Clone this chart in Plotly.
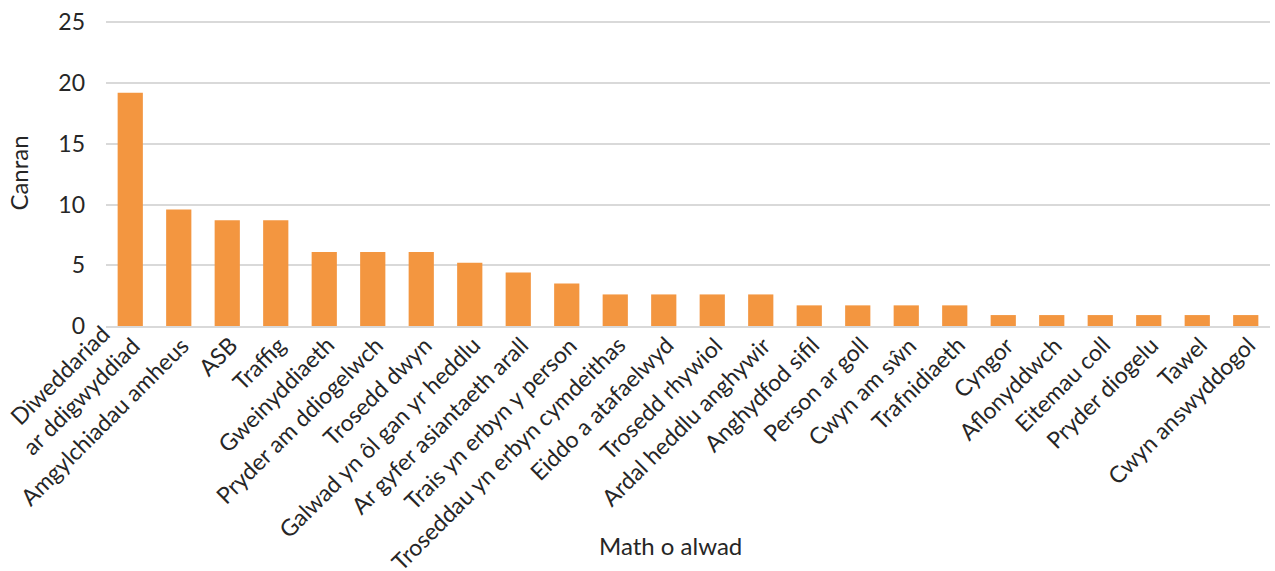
import plotly.graph_objects as go

categories = [
    "Diweddariad<br>ar ddigwyddiad", "Amgylchiadau amheus", "ASB", "Traffig",
    "Gweinyddiaeth", "Pryder am ddiogelwch", "Trosedd dwyn",
    "Galwad yn ôl gan yr heddlu", "Ar gyfer asiantaeth arall",
    "Trais yn erbyn y person", "Troseddau yn erbyn cymdeithas",
    "Eiddo a atafaelwyd", "Trosedd rhywiol", "Ardal heddlu anghywir",
    "Anghydfod sifil", "Person ar goll", "Cwyn am sŵn", "Trafnidiaeth",
    "Cyngor", "Aflonyddwch", "Eitemau coll", "Pryder diogelu", "Tawel",
    "Cwyn answyddogol",
]
values = [19.2, 9.6, 8.7, 8.7, 6.1, 6.1, 6.1, 5.2, 4.4, 3.5,
          2.6, 2.6, 2.6, 2.6, 1.7, 1.7, 1.7, 1.7,
          0.9, 0.9, 0.9, 0.9, 0.9, 0.9]
y_ticks = [0, 5, 10, 15, 20, 25]
x_title = "Math o alwad"
y_title = "Canran"

FONT = "Lato"
TXT = "#262626"
LABEL_SIZE = 23

fig = go.Figure(go.Bar(x=categories, y=values, marker_color="#F39640",
                       marker_line_width=0))

# category labels as rotated annotations (centred multi-line like the original)
for i, cat in enumerate(categories):
    n_lines = cat.count("<br>") + 1
    extra_up = (n_lines - 1) * 21
    fig.add_annotation(
        x=i, xref="x", y=0, yref="paper",
        text=cat, textangle=-45, showarrow=False,
        xanchor="right", yanchor="top", align="center",
        xshift=18, yshift=-2 + extra_up,
        font=dict(size=LABEL_SIZE, family=FONT, color=TXT),
    )

fig.add_annotation(
    x=0.485, xref="paper", y=0, yref="paper", yshift=-219,
    text=x_title, showarrow=False, xanchor="center", yanchor="middle",
    font=dict(size=24, family=FONT, color=TXT),
)

fig.update_layout(
    width=1275, height=571,
    margin=dict(l=106, r=5, t=20, b=245),
    paper_bgcolor="white", plot_bgcolor="white",
    bargap=0.48, showlegend=False,
    font=dict(family=FONT, color=TXT, size=20),
)
fig.update_xaxes(
    showticklabels=False, categoryorder="array", categoryarray=categories,
    range=[-0.5, len(categories) - 0.5],
    showline=True, linecolor="#D9D9D9", linewidth=1.5, ticks="",
)
fig.update_yaxes(
    range=[0, 25.2], tickvals=y_ticks, tickfont=dict(size=23, family=FONT, color=TXT),
    showgrid=True, gridcolor="#D9D9D9", gridwidth=1.5, zeroline=False,
    ticks="", ticklabelstandoff=20,
    title=dict(text=y_title, font=dict(size=24, family=FONT, color=TXT), standoff=22),
)
fig.write_html("out.html")
